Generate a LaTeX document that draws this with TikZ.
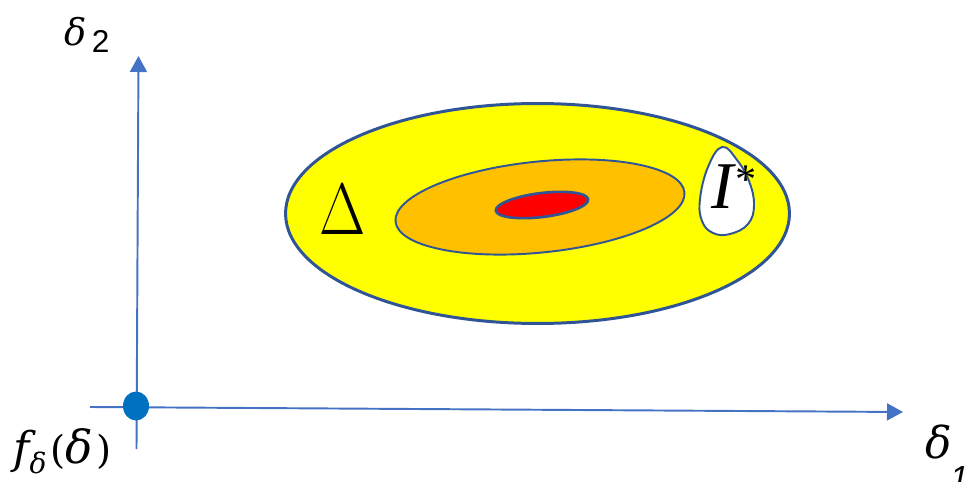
\documentclass[tikz,border=0pt]{standalone}
\usepackage{fix-cm}
\usepackage{fontspec}
\setsansfont{Liberation Sans}
\newfontfamily\timesfont{Liberation Serif}
\newfontfamily\greekfont{DejaVu Serif}
\usetikzlibrary{arrows.meta,shapes.geometric}
\definecolor{axisblue}{RGB}{68,114,196}
\definecolor{dotblue}{RGB}{0,112,192}
\definecolor{rimblue}{RGB}{47,85,151}
\definecolor{lemon}{RGB}{255,255,0}
\definecolor{amber}{RGB}{255,192,0}
\definecolor{hotred}{RGB}{255,0,0}
\newcommand{\gdel}[1]{{\fontsize{#1}{#1}\selectfont\greekfont\itshape δ}}

\begin{document}
\begin{tikzpicture}[x=0.02cm,y=0.02cm]
  \tikzstyle{axis}=[-{Triangle[length=0.32cm,width=0.34cm]},axisblue,line width=1.1pt]
  \tikzstyle{zone}=[ellipse,draw=rimblue,inner sep=0pt,outer sep=0pt]
  \tikzstyle{lbl}=[inner sep=0pt,anchor=base west]

  \useasboundingbox (0,0) rectangle (967,481);

  % -- Axes and origin --
  \coordinate (xfrom) at (90,74);
  \coordinate (xto) at (903,69);
  \coordinate (yfrom) at (136.5,32);
  \coordinate (yto) at (138.5,425);
  \draw[axis] (xfrom) -- (xto);
  \draw[axis] (yfrom) -- (yto);
  \node[ellipse,fill=dotblue,minimum width=0.52cm,minimum height=0.58cm,inner sep=0pt] (orig) at (136,75) {};

  % -- Nested regions --
  \node[zone,fill=lemon,line width=1.7pt,minimum width=10.08cm,minimum height=4.4cm] (outer) at (537.5,267.5) {};
  \node[zone,fill=amber,line width=1.1pt,minimum width=5.81cm,minimum height=1.82cm,rotate=5.8] (mid) at (540,274) {};
  \node[zone,fill=hotred,line width=1.5pt,minimum width=1.86cm,minimum height=0.48cm,rotate=7] (core) at (542,276) {};

  % -- I* pocket --
  \draw[rimblue,fill=white,line width=1.1pt] plot[smooth cycle,tension=0.7] coordinates
    {(722,334) (737,321) (749,300) (754,276) (748,257) (730,247) (713,248) (702,260) (700,282) (708,314)};

  % -- Labels --
  \node[inner sep=0pt] (delta) at (343,271) {\fontsize{41.5}{44}\selectfont\scalebox{0.82}[1]{$\Delta$}};
  \node[lbl] (istar) at (711,273) {\fontsize{38}{40}\selectfont\timesfont\itshape I\raisebox{8pt}{\fontsize{24}{24}\selectfont *}};
  \node[lbl] (ylab) at (64,436) {\gdel{21}\hspace{3pt}\raisebox{-4.5pt}{\fontsize{18}{20}\selectfont\sffamily 2}};
  \node[lbl] (xlab) at (925,23) {\gdel{25}\hspace{-1pt}\raisebox{-17.9pt}{\fontsize{19}{20}\selectfont\sffamily\itshape 1}};
  \node[lbl] (flab) at (13,18) {\fontsize{22}{24}\selectfont\greekfont\itshape{\fontsize{25}{25}\selectfont f}\raisebox{-6pt}{\gdel{16}}\hspace{2pt}\upshape(\gdel{26}\hspace{2pt})};
\end{tikzpicture}
\end{document}
